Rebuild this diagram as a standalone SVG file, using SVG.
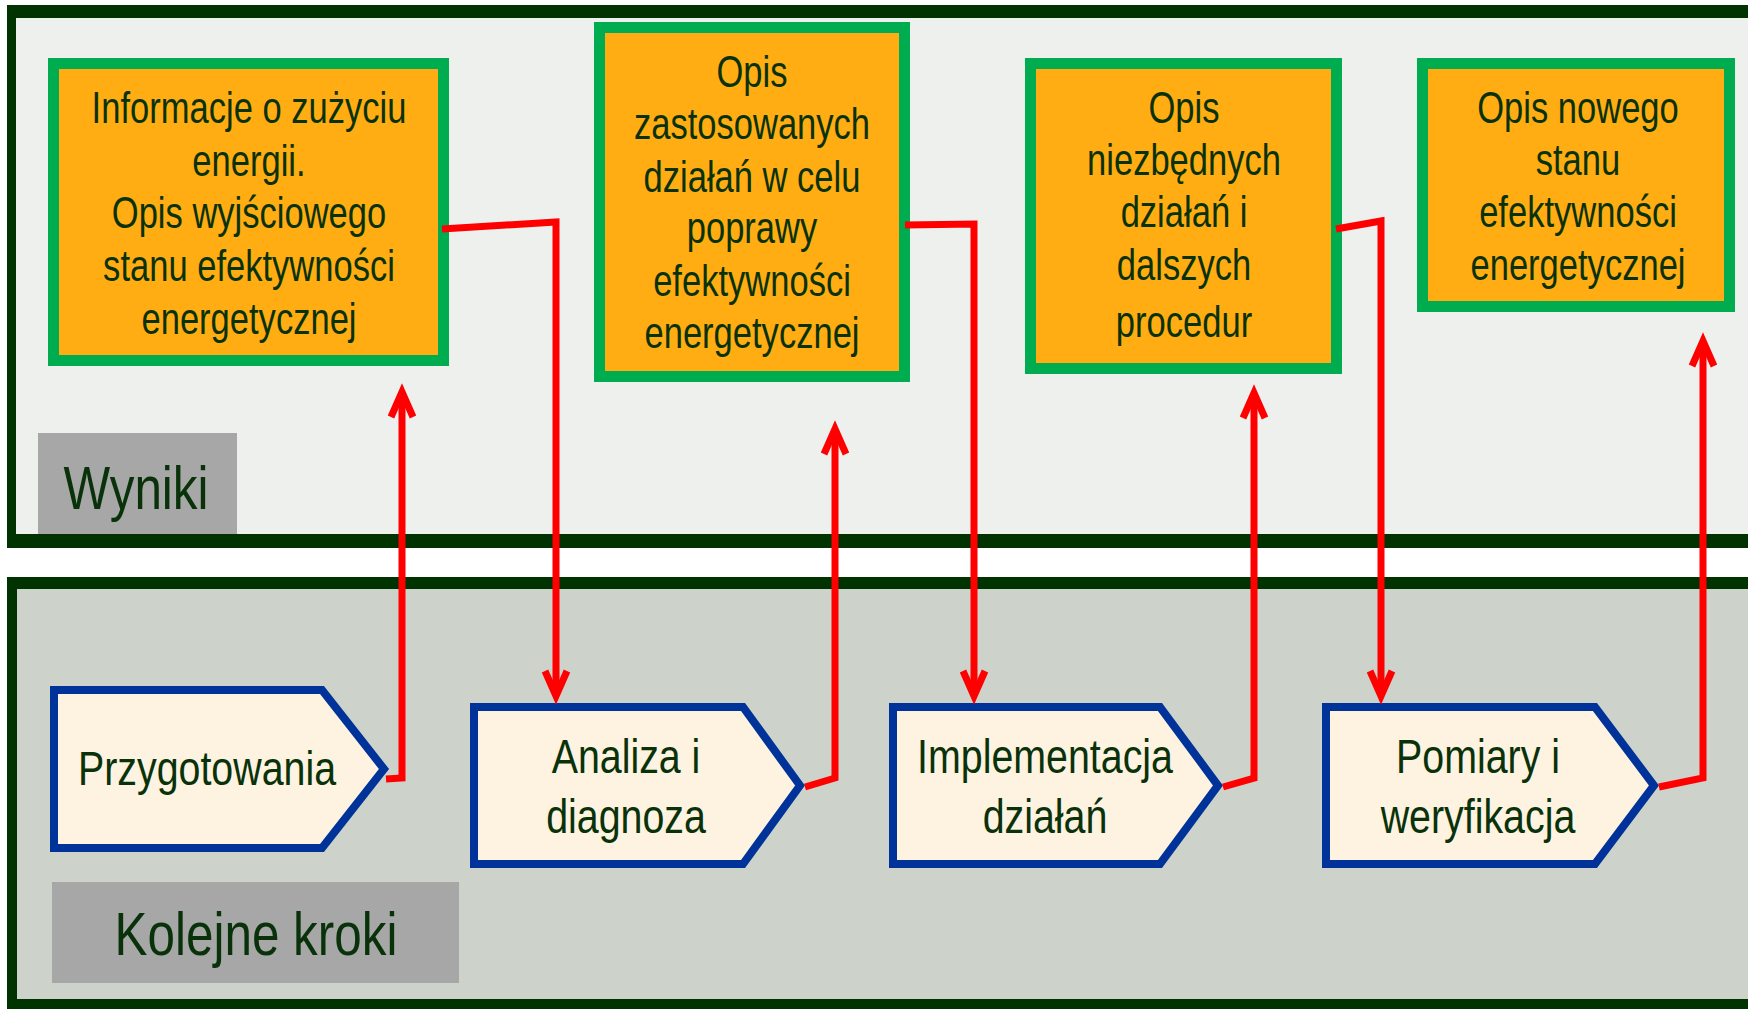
<svg xmlns="http://www.w3.org/2000/svg" width="1748" height="1009" viewBox="0 0 1748 1009">
  <style>
    .band { fill: #003300; }
    .result rect { fill: #FFAD12; stroke: #00AC50; stroke-width: 11; }
    .step path { fill: #FEF3E0; stroke: #003399; stroke-width: 8; stroke-linejoin: miter; }
    .label rect { fill: #A7A7A7; }
    text { font-family: "Liberation Sans", Arial, sans-serif; fill: #0A320A; text-anchor: middle; }
    .rt { font-size: 44px; }
    .st { font-size: 48px; }
    .lt { font-size: 61px; }
    .link { fill: none; stroke: #FF0000; stroke-width: 7; stroke-linejoin: miter; marker-end: url(#head); }
  </style>
  <defs>
    <marker id="head" viewBox="-40 -16 44 32" markerWidth="44" markerHeight="32" refX="-9" refY="0" orient="auto" markerUnits="userSpaceOnUse">
      <polyline points="-34,-11 -9,0 -34,11" fill="none" stroke="#FF0000" stroke-width="7" stroke-linejoin="miter"/>
    </marker>
  </defs>

  <rect x="0" y="0" width="1748" height="1009" fill="#FFFFFF"/>

  <!-- upper panel: results -->
  <g id="panel-results">
    <rect x="7" y="5" width="1741" height="543" fill="#EEF0ED"/>
    <rect class="band" x="7" y="5" width="1741" height="13"/>
    <rect class="band" x="7" y="5" width="9" height="543"/>
    <rect class="band" x="7" y="534" width="1741" height="14"/>
  </g>

  <!-- lower panel: steps -->
  <g id="panel-steps">
    <rect x="7" y="577" width="1741" height="432" fill="#CDD3CB"/>
    <rect class="band" x="7" y="577" width="1741" height="12"/>
    <rect class="band" x="7" y="577" width="10" height="432"/>
    <rect class="band" x="7" y="999" width="1741" height="10"/>
  </g>

  <g id="label-wyniki" class="label">
    <rect x="38" y="433" width="199" height="101"/>
    <g transform="translate(136 0) scale(0.81 1)"><text class="lt" x="0" y="509">Wyniki</text></g>
  </g>

  <g id="label-kroki" class="label">
    <rect x="52" y="882" width="407" height="101"/>
    <g transform="translate(256 0) scale(0.81 1)"><text class="lt" x="0" y="955">Kolejne kroki</text></g>
  </g>

  <!-- result boxes -->
  <g id="result-1" class="result">
    <rect x="53.5" y="63.5" width="390" height="297"/>
    <g transform="translate(249 0) scale(0.785 1)">
      <text class="rt" x="0" y="123">Informacje o zużyciu</text>
      <text class="rt" x="0" y="176">energii.</text>
      <text class="rt" x="0" y="228">Opis wyjściowego</text>
      <text class="rt" x="0" y="281">stanu efektywności</text>
      <text class="rt" x="0" y="334">energetycznej</text>
    </g>
  </g>

  <g id="result-2" class="result">
    <rect x="599.5" y="27.5" width="305" height="349"/>
    <g transform="translate(752 0) scale(0.785 1)">
      <text class="rt" x="0" y="87">Opis</text>
      <text class="rt" x="0" y="139">zastosowanych</text>
      <text class="rt" x="0" y="192">działań w celu</text>
      <text class="rt" x="0" y="243">poprawy</text>
      <text class="rt" x="0" y="296">efektywności</text>
      <text class="rt" x="0" y="348">energetycznej</text>
    </g>
  </g>

  <g id="result-3" class="result">
    <rect x="1030.5" y="63.5" width="306" height="305"/>
    <g transform="translate(1184 0) scale(0.785 1)">
      <text class="rt" x="0" y="123">Opis</text>
      <text class="rt" x="0" y="175">niezbędnych</text>
      <text class="rt" x="0" y="227">działań i</text>
      <text class="rt" x="0" y="280">dalszych</text>
      <text class="rt" x="0" y="337">procedur</text>
    </g>
  </g>

  <g id="result-4" class="result">
    <rect x="1422.5" y="63.5" width="307" height="243"/>
    <g transform="translate(1578 0) scale(0.785 1)">
      <text class="rt" x="0" y="123">Opis nowego</text>
      <text class="rt" x="0" y="175">stanu</text>
      <text class="rt" x="0" y="227">efektywności</text>
      <text class="rt" x="0" y="280">energetycznej</text>
    </g>
  </g>

  <!-- process steps -->
  <g id="step-1" class="step">
    <path d="M54,690 H322 L384,769 L322,848 H54 Z"/>
    <g transform="translate(207 0) scale(0.82 1)"><text class="st" x="0" y="785">Przygotowania</text></g>
  </g>

  <g id="step-2" class="step">
    <path d="M474,707 H743 L800,785.5 L743,864 H474 Z"/>
    <g transform="translate(626 0) scale(0.82 1)">
      <text class="st" x="0" y="773">Analiza i</text>
      <text class="st" x="0" y="833">diagnoza</text>
    </g>
  </g>

  <g id="step-3" class="step">
    <path d="M893,707 H1160 L1218,785.5 L1160,864 H893 Z"/>
    <g transform="translate(1045 0) scale(0.82 1)">
      <text class="st" x="0" y="773">Implementacja</text>
      <text class="st" x="0" y="833">działań</text>
    </g>
  </g>

  <g id="step-4" class="step">
    <path d="M1326,707 H1595 L1654,785.5 L1595,864 H1326 Z"/>
    <g transform="translate(1478 0) scale(0.82 1)">
      <text class="st" x="0" y="773">Pomiary i</text>
      <text class="st" x="0" y="833">weryfikacja</text>
    </g>
  </g>

  <!-- connectors -->
  <g id="connectors">
    <path class="link" d="M386,779 L402,778 L402,392"/>
    <path class="link" d="M442,229 L556,222 L556,696"/>
    <path class="link" d="M805,787 L835,778 L835,429"/>
    <path class="link" d="M905,225 L974,224 L974,696"/>
    <path class="link" d="M1223,787 L1254,778 L1254,393"/>
    <path class="link" d="M1336,229 L1381,221 L1381,696"/>
    <path class="link" d="M1659,787 L1703,778 L1703,341"/>
  </g>
</svg>
